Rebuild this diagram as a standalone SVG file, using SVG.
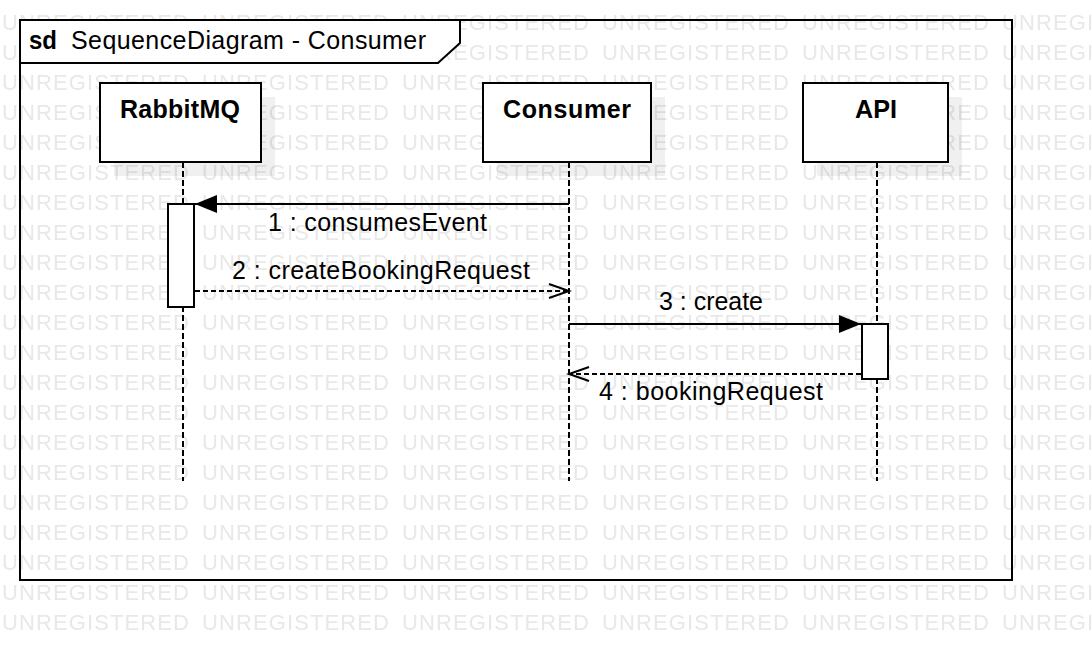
<svg xmlns="http://www.w3.org/2000/svg" width="1092" height="660" viewBox="0 0 1092 660">
<style>
.wm{font-family:"Liberation Sans",Arial,sans-serif;font-size:22px;fill:#e8e8e8}
.box{fill:#fff;stroke:#000;stroke-width:2}
.shadow{fill:#000;fill-opacity:0.06}
.life{stroke:#000;stroke-width:2;stroke-dasharray:6 3;fill:none}
.head{font-family:"Liberation Sans",Arial,sans-serif;font-size:25px;font-weight:bold;fill:#000}
.lbl{font-family:"Liberation Sans",Arial,sans-serif;font-size:25px;fill:#000}
.msg{stroke:#000;stroke-width:2;fill:none}
.ret{stroke:#000;stroke-width:2;fill:none;stroke-dasharray:5 3}
</style>
<defs>
<pattern id="wmPat" patternUnits="userSpaceOnUse" x="0" y="5" width="200" height="30">
<text class="wm" x="2" y="25" textLength="187" lengthAdjust="spacing">UNREGISTERED</text>
</pattern>
<marker id="filled" markerUnits="userSpaceOnUse" markerWidth="24" markerHeight="22" viewBox="0 0 24 22" refX="22" refY="11" orient="auto">
<path d="M0,2 L22,11 L0,20 z" fill="#000" stroke="none"/>
</marker>
<marker id="open" markerUnits="userSpaceOnUse" markerWidth="24" markerHeight="20" viewBox="0 0 24 20" refX="21" refY="10" orient="auto">
<path d="M1,3 L21,10 L1,17" fill="none" stroke="#000" stroke-width="2" stroke-dasharray="none"/>
</marker>
</defs>
<rect width="1092" height="660" fill="#fff"/>
<rect width="1092" height="636" fill="url(#wmPat)"/>

<g id="frame">
<rect x="20" y="20" width="992" height="560" fill="none" stroke="#000" stroke-width="2"/>
<polygon points="20,20 460,20 460,43 438,63 20,63" fill="#fff" stroke="#000" stroke-width="2"/>
<text x="29" y="49" class="head" textLength="28" lengthAdjust="spacingAndGlyphs">sd</text>
<text x="71" y="49" class="lbl" textLength="355" lengthAdjust="spacing">SequenceDiagram - Consumer</text>
</g>

<g id="rabbitmq">
<rect class="shadow" x="114" y="97" width="161" height="79"/>
<line class="life" x1="183" y1="162" x2="183" y2="481"/>
<rect class="box" x="100" y="83" width="161" height="79"/>
<text x="120" y="118" class="head" textLength="120" lengthAdjust="spacing">RabbitMQ</text>
<rect class="box" x="168" y="204" width="26" height="103"/>
</g>

<g id="consumer">
<rect class="shadow" x="497" y="97" width="168" height="79"/>
<line class="life" x1="569" y1="162" x2="569" y2="481"/>
<rect class="box" x="483" y="83" width="168" height="79"/>
<text x="503" y="118" class="head" textLength="128" lengthAdjust="spacing">Consumer</text>
</g>

<g id="api">
<rect class="shadow" x="817" y="97" width="145" height="79"/>
<line class="life" x1="877" y1="162" x2="877" y2="481"/>
<rect class="box" x="803" y="83" width="145" height="79"/>
<text x="855" y="118" class="head" textLength="42" lengthAdjust="spacingAndGlyphs">API</text>
<rect class="box" x="862" y="324" width="26" height="55"/>
</g>

<g id="connectors">
<line class="msg" x1="569" y1="204" x2="195" y2="204" marker-end="url(#filled)"/>
<text x="268" y="231" class="lbl" textLength="219" lengthAdjust="spacing">1 : consumesEvent</text>
<line class="ret" x1="195" y1="291" x2="569" y2="291" marker-end="url(#open)"/>
<text x="232" y="279" class="lbl" textLength="298" lengthAdjust="spacing">2 : createBookingRequest</text>
<line class="msg" x1="569" y1="324" x2="861" y2="324" marker-end="url(#filled)"/>
<text x="659" y="310" class="lbl" textLength="104" lengthAdjust="spacingAndGlyphs">3 : create</text>
<line class="ret" x1="861" y1="374" x2="569" y2="374" marker-end="url(#open)"/>
<text x="599" y="400" class="lbl" textLength="224" lengthAdjust="spacing">4 : bookingRequest</text>
</g>
</svg>
